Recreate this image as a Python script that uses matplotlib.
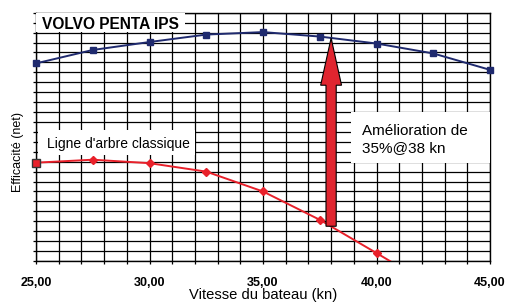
import matplotlib
matplotlib.use("Agg")
import matplotlib.pyplot as plt
import numpy as np
from matplotlib.patches import FancyArrow, Rectangle

plt.rcParams['font.family'] = ['Liberation Sans', 'DejaVu Sans']

speeds = [25, 27.5, 30, 32.5, 35, 37.5, 40, 42.5, 45]
ips_eff = [19.9, 21.25, 22.05, 22.8, 23.05, 22.6, 21.9, 20.9, 19.25]
shaft_speeds = [25, 27.5, 30, 32.5, 35, 37.5, 40, 42.5]
shaft_eff = [9.9, 10.2, 9.85, 9.0, 7.0, 4.15, 0.8, -2.6]
xticks = [25, 30, 35, 40, 45]
xtick_labels = ["25,00", "30,00", "35,00", "40,00", "45,00"]
arrow_speed = 38
arrow_from = 3.5
arrow_to = 22.45

fig = plt.figure(figsize=(5.05, 3.03), dpi=100)
ax = fig.add_axes([0.0713, 0.1386, 0.8990, 0.8194])
ax.set_xlim(25, 45)
ax.set_ylim(0, 25)

for x in np.arange(25, 46, 1):
    ax.axvline(x, color='black', lw=0.9, zorder=1)
for y in np.arange(0, 26, 1):
    ax.axhline(y, color='black', lw=0.9, zorder=1)

ax.plot(speeds, ips_eff, color='#1f2a6e', lw=1.4, marker='s', ms=5,
        mfc='#1f2a6e', mec='#1f2a6e', zorder=4, clip_on=False)
ax.plot(shaft_speeds, shaft_eff, color='#e8202a', lw=1.4, marker='D', ms=4,
        mfc='#e8202a', mec='#e8202a', zorder=4)
ax.plot([shaft_speeds[0]], [shaft_eff[0]], marker='s', ms=6, mfc='#e8202a',
        mec='#333333', mew=1.0, zorder=5, clip_on=False)

ax.add_patch(FancyArrow(arrow_speed, arrow_from, 0, arrow_to - arrow_from,
                        width=0.45, head_width=0.92, head_length=4.75,
                        length_includes_head=True, fc='#e0252f', ec='black',
                        lw=0.8, zorder=6))

ax.set_xticks(xticks)
ax.set_xticklabels(xtick_labels, fontsize=9, fontweight='bold')
ax.set_xticks(np.arange(25, 46, 1), minor=True)
ax.tick_params(axis='x', which='major', length=2.5, width=0.9, pad=9)
ax.tick_params(axis='x', which='minor', length=2.5, width=0.9)
ax.set_yticks(np.arange(0, 26, 1))
ax.set_yticklabels([])
ax.tick_params(axis='y', length=2.5, width=0.9)
for s in ax.spines.values():
    s.set_color('black')
    s.set_linewidth(1.0)

fig.text(263 / 505, 4 / 303, "Vitesse du bateau (kn)", fontsize=10.6,
         ha='center', va='baseline')
fig.text(18 / 505, 1 - 152.5 / 303, "Efficacité (net)", fontsize=9,
         ha='center', va='center', rotation=90)

# label boxes
ax.add_patch(Rectangle((25.0, 23.06), 6.56, 1.94, fc='white', ec='none', zorder=6))
ax.text(25.27, 23.8, "VOLVO PENTA IPS", fontsize=11.2, fontweight='bold',
        va='center', ha='left', zorder=7)
ax.add_patch(Rectangle((25.07, 10.67), 6.93, 2.53, fc='white', ec='none', zorder=6))
ax.text(25.48, 11.75, "Ligne d'arbre classique", fontsize=10,
        va='center', ha='left', zorder=7)
ax.add_patch(Rectangle((38.88, 9.87), 6.12, 5.13, fc='white', ec='none', zorder=6))
ax.text(39.36, 12.2, "Amélioration de\n35%@38 kn", fontsize=11,
        va='center', ha='left', zorder=7, linespacing=1.25)

fig.savefig("out.png", dpi=100)
